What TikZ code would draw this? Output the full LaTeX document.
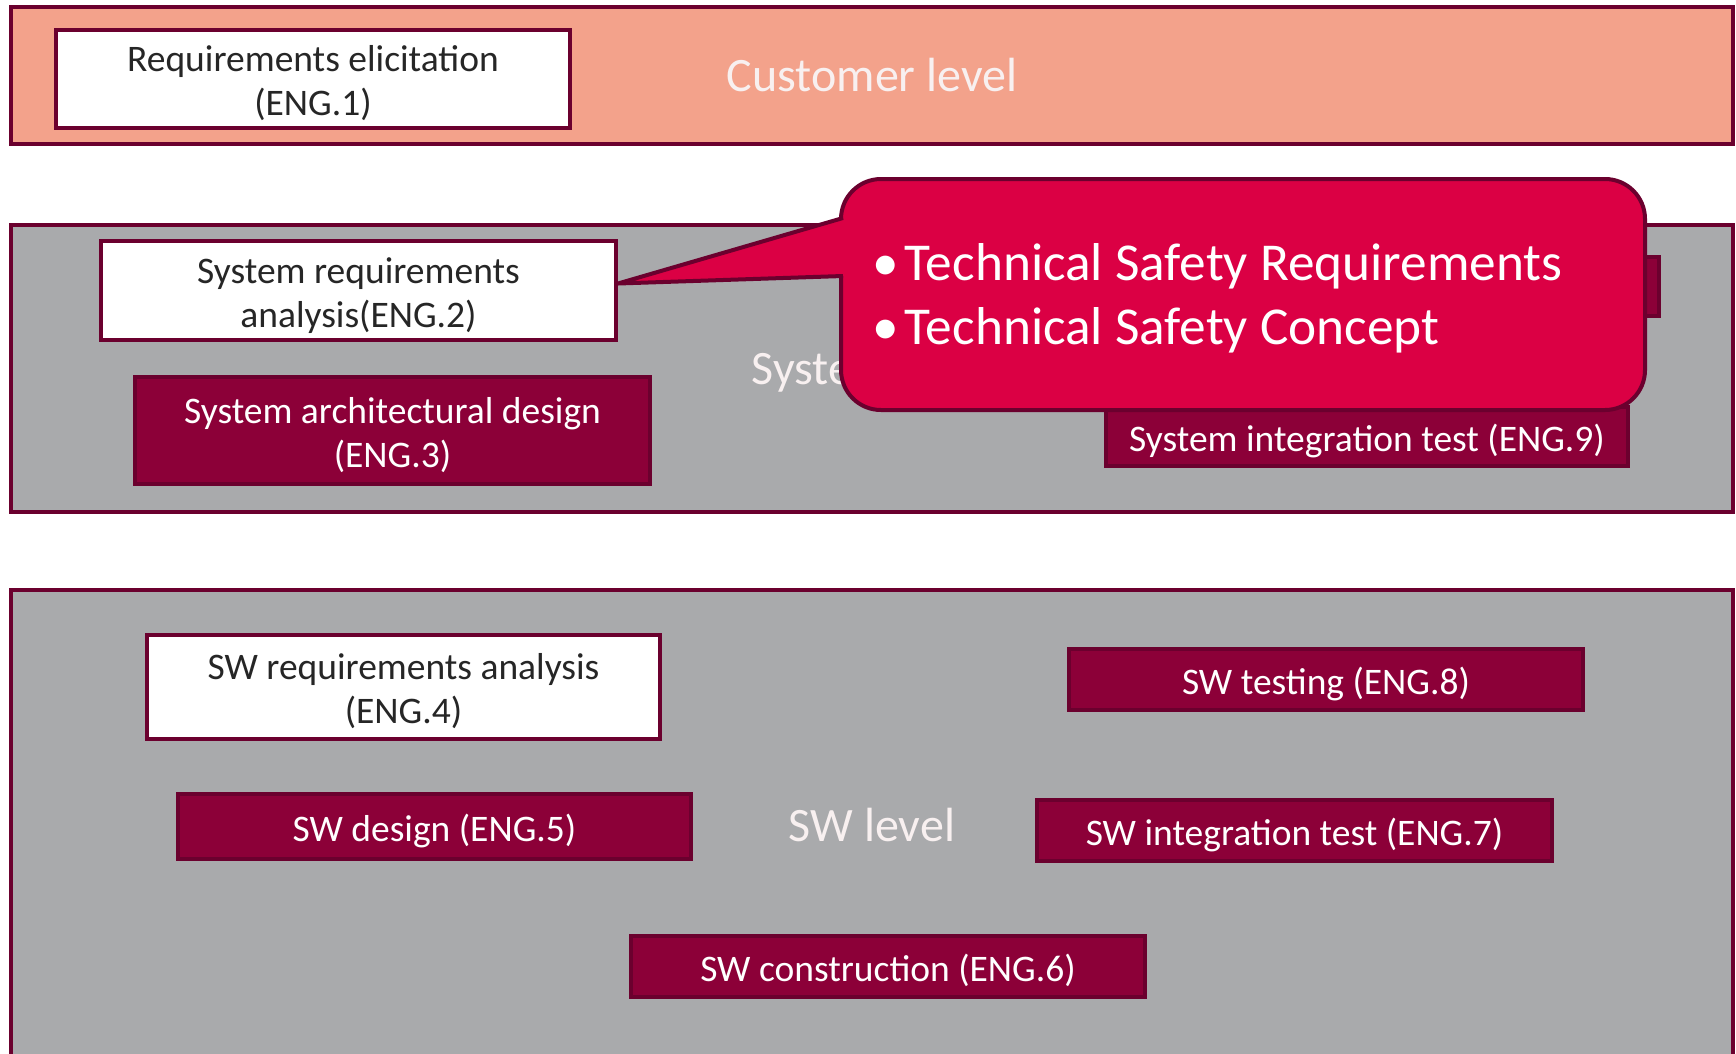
\documentclass[tikz,border=0pt]{standalone}
\usepackage{fontspec}
\setmainfont{Carlito}
\usetikzlibrary{calc}
\definecolor{salmon}{HTML}{F3A28B}
\definecolor{bandgray}{HTML}{A9AAAC}
\definecolor{maroon}{HTML}{8C0038}
\definecolor{edge}{HTML}{6B002E}
\definecolor{crimson}{HTML}{DB0044}
\definecolor{levelwhite}{HTML}{F8F0F0}
% box text, drawn a little lower while keeping its size for centring
\newcommand\boxlines[1]{\raisebox{-6pt}[\height][\depth]{\begin{tabular}{@{}c@{}}#1\end{tabular}}}
\tikzset{
  band/.style={draw=edge, line width=4pt},
  procbox/.style={rectangle, draw=edge, line width=4pt, inner sep=0pt, align=center,
    font=\fontsize{37.5}{44}\selectfont},
  whitebox/.style={procbox, fill=white, text=black!85},
  redbox/.style={procbox, fill=maroon, text=white},
  levellabel/.style={text=levelwhite, inner sep=0pt, font=\fontsize{48}{56}\selectfont},
}
\begin{document}
\begin{tikzpicture}[x=1pt, y=-1pt]
\useasboundingbox (0,0) rectangle (1736,1053);
\begin{scope}
\clip (0,0) rectangle (1736,1053);

% level bands
\draw[band, fill=salmon]   (11,7)   rectangle (1733,144);
\draw[band, fill=bandgray] (11,225) rectangle (1733,512);
\draw[band, fill=bandgray] (11,590) rectangle (1733,1080);

% level names
\node[levellabel] (custlevel) at (872,75)  {Customer level};
\node[levellabel] (syslevel)  at (872,372) {System level};
\node[levellabel] (swlevel)   at (872,825) {SW level};

% customer level
\node[whitebox, minimum width=514, minimum height=98] (eng1) at (313,79)
  {\boxlines{Requirements elicitation\\(ENG.1)}};

% system level
\node[whitebox, minimum width=515, minimum height=99] (eng2) at (358.5,290.5)
  {\boxlines{System requirements\\analysis(ENG.2)}};
\node[redbox, minimum width=515, minimum height=107] (eng3) at (392.5,430.5)
  {\boxlines{System architectural design\\(ENG.3)}};
\draw[band, fill=maroon] (1150,257) rectangle (1659,316);
\node[redbox, minimum width=522, minimum height=59] (eng9) at (1367,436.5)
  {\boxlines{System integration test (ENG.9)}};

% software level
\node[whitebox, minimum width=513, minimum height=104] (eng4) at (403.5,687)
  {\boxlines{SW requirements analysis\\(ENG.4)}};
\node[redbox, minimum width=513, minimum height=65] (eng5) at (434.5,826.5)
  {\boxlines{SW design (ENG.5)}};
\node[redbox, minimum width=514, minimum height=61] (eng6) at (888,966.5)
  {\boxlines{SW construction (ENG.6)}};
\node[redbox, minimum width=515, minimum height=61] (eng7) at (1294.5,830.5)
  {\boxlines{SW integration test (ENG.7)}};
\node[redbox, minimum width=514, minimum height=61] (eng8) at (1326,679.5)
  {\boxlines{SW testing (ENG.8)}};

% safety callout pointing at the system requirements
\coordinate (ptop) at (843,218);
\coordinate (pbot) at (843,276);
\coordinate (ptip) at ($(eng2.east)+(0,-7)$);
\draw[draw=edge, fill=crimson, line width=4pt, rounded corners=40pt]
  (841,179) rectangle (1645,410);
\fill[crimson] ($(ptop)+(4,0)$) -- (ptip) -- ($(pbot)+(4,0)$) -- cycle;
\draw[draw=edge, line width=4pt, line join=round] (ptop) -- (ptip) -- (pbot);
\node[anchor=west, text=white, inner sep=0pt, align=left,
      font=\fontsize{53.3}{64}\selectfont] (safety) at (872,298)
  {\textbullet\hspace{6pt}Technical Safety Requirements\\
   \textbullet\hspace{6pt}Technical Safety Concept};
\end{scope}
\end{tikzpicture}
\end{document}
